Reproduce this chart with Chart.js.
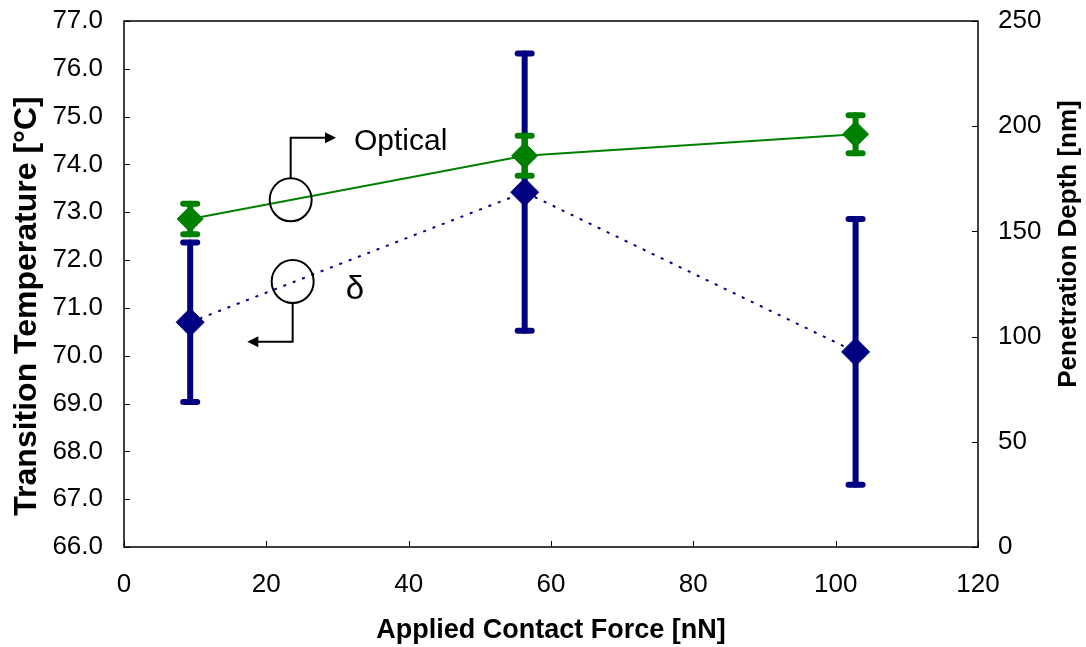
<!DOCTYPE html>
<html><head><meta charset="utf-8">
<script src="https://cdn.jsdelivr.net/npm/chart.js@4.4.0/dist/chart.umd.min.js"></script>
<style>html,body{margin:0;padding:0;background:#fff;}#wrap{width:1086px;height:647px;}</style>
</head><body><div id="wrap"><canvas id="c" width="1086" height="647"></canvas></div>
<script>
// ---- data ----
const forces = [9.3, 56.3, 102.8];                 // Applied Contact Force [nN]
const opticalValues = [155.9, 186.0, 196.2];       // "Optical" (right axis)
const opticalErrors = [7.3, 9.5, 9.0];
const deltaValues = [70.70, 73.42, 70.08];         // "δ" (left axis)
const deltaErrors = [1.67, 2.90, 2.78];
const leftRange = [66, 77], leftStep = 1;
const rightRange = [0, 250], rightStep = 50;
const xRange = [0, 120], xStep = 20;
const errorSets = [opticalErrors, deltaErrors];
const xTitle = 'Applied Contact Force [nN]';
const leftTitle = 'Transition Temperature [°C]';
const rightTitle = 'Penetration Depth [nm]';

const FONT = "'Liberation Sans', Arial, sans-serif";

const errorBars = {
  id: 'errorBars',
  beforeDatasetDraw(chart, args) {
    const ds = chart.data.datasets[args.index];
    const errs = errorSets[args.index];
    const xs = chart.scales.x, ys = chart.scales[ds.yAxisID];
    const ctx = chart.ctx;
    ctx.save();
    ctx.strokeStyle = ds.borderColor;
    ctx.lineCap = 'round';
    ds.data.forEach((p, i) => {
      const px = xs.getPixelForValue(p.x);
      const t = ys.getPixelForValue(p.y + errs[i]);
      const b = ys.getPixelForValue(p.y - errs[i]);
      ctx.lineWidth = 6;
      ctx.beginPath(); ctx.moveTo(px, t); ctx.lineTo(px, b); ctx.stroke();
      ctx.beginPath(); ctx.moveTo(px - 7, t); ctx.lineTo(px + 7, t); ctx.stroke();
      ctx.beginPath(); ctx.moveTo(px - 7, b); ctx.lineTo(px + 7, b); ctx.stroke();
    });
    ctx.restore();
  }
};

const frame = {
  id: 'frame',
  beforeDatasetsDraw(chart) {
    const {ctx, chartArea: a, scales} = chart;
    ctx.save();
    ctx.strokeStyle = '#000';
    ctx.lineWidth = 1.5;
    ctx.strokeRect(a.left, a.top, a.right - a.left, a.bottom - a.top);
    ctx.lineWidth = 1;
    const L = 6;
    scales.x.ticks.forEach(t => {
      const p = Math.round(scales.x.getPixelForValue(t.value)) + 0.5;
      ctx.beginPath(); ctx.moveTo(p, a.bottom); ctx.lineTo(p, a.bottom - L); ctx.stroke();
    });
    scales.y.ticks.forEach(t => {
      const p = Math.round(scales.y.getPixelForValue(t.value)) + 0.5;
      ctx.beginPath(); ctx.moveTo(a.left, p); ctx.lineTo(a.left + L, p); ctx.stroke();
    });
    scales.y2.ticks.forEach(t => {
      const p = Math.round(scales.y2.getPixelForValue(t.value)) + 0.5;
      ctx.beginPath(); ctx.moveTo(a.right, p); ctx.lineTo(a.right - L, p); ctx.stroke();
    });
    ctx.restore();
  }
};

// annotation anchors in data units (x, left-axis value)
const notes = {
  optical: {circle: [23.42, 73.26], top: 74.56, tip: 29.79, text: [32.32, 74.47], label: 'Optical'},
  delta: {circle: [23.70, 71.55], bottom: 70.29, tip: 17.33, text: [32.46, 71.37], label: 'δ'}
};

const annotations = {
  id: 'annotations',
  afterDatasetsDraw(chart) {
    const {ctx, scales} = chart;
    const X = v => scales.x.getPixelForValue(v), Y = v => scales.y.getPixelForValue(v);
    ctx.save();
    ctx.strokeStyle = '#000'; ctx.fillStyle = '#000'; ctx.lineWidth = 2;
    const rx = 21, ry = 21.5;
    let n = notes.optical;
    let cx = X(n.circle[0]), cy = Y(n.circle[1]);
    ctx.beginPath(); ctx.ellipse(cx, cy, rx, ry, 0, 0, Math.PI * 2); ctx.stroke();
    let ty = Y(n.top), tx = X(n.tip);
    ctx.beginPath(); ctx.moveTo(cx, cy - ry); ctx.lineTo(cx, ty); ctx.lineTo(tx - 8, ty); ctx.stroke();
    ctx.beginPath(); ctx.moveTo(tx, ty); ctx.lineTo(tx - 11, ty - 5.5); ctx.lineTo(tx - 11, ty + 5.5); ctx.closePath(); ctx.fill();
    ctx.font = '30px ' + FONT; ctx.textAlign = 'left'; ctx.textBaseline = 'middle';
    ctx.fillText(n.label, X(n.text[0]), Y(n.text[1]));
    n = notes.delta;
    cx = X(n.circle[0]); cy = Y(n.circle[1]);
    ctx.beginPath(); ctx.ellipse(cx, cy, rx, ry, 0, 0, Math.PI * 2); ctx.stroke();
    let by = Y(n.bottom); tx = X(n.tip);
    ctx.beginPath(); ctx.moveTo(cx, cy + ry); ctx.lineTo(cx, by); ctx.lineTo(tx + 8, by); ctx.stroke();
    ctx.beginPath(); ctx.moveTo(tx, by); ctx.lineTo(tx + 11, by - 5.5); ctx.lineTo(tx + 11, by + 5.5); ctx.closePath(); ctx.fill();
    ctx.font = '33px ' + FONT; ctx.textAlign = 'center';
    ctx.fillText(n.label, X(n.text[0]), Y(n.text[1]));
    ctx.restore();
  }
};

// vertical axis titles, both reading bottom-to-top
const yTitles = {
  id: 'yTitles',
  afterDraw(chart) {
    const ctx = chart.ctx;
    ctx.save();
    ctx.fillStyle = '#000'; ctx.textAlign = 'center'; ctx.textBaseline = 'middle';
    ctx.translate(27, 306); ctx.rotate(-Math.PI / 2);
    ctx.font = 'bold 32px ' + FONT;
    ctx.fillText(leftTitle, 0, 0);
    ctx.restore();
    ctx.save();
    ctx.fillStyle = '#000'; ctx.textAlign = 'center'; ctx.textBaseline = 'middle';
    ctx.translate(1069, 244); ctx.rotate(-Math.PI / 2);
    ctx.font = 'bold 26px ' + FONT;
    ctx.fillText(rightTitle, 0, 0);
    ctx.restore();
  }
};

const tickFont = {family: FONT, size: 26};
const titleFont = {family: FONT, size: 27, weight: 'bold'};
const noVertPad = s => { s.paddingTop = 0; s.paddingBottom = 0; };

new Chart(document.getElementById('c'), {
  type: 'line',
  data: {
    datasets: [
      {
        label: 'Optical', yAxisID: 'y2',
        data: forces.map((x, i) => ({x, y: opticalValues[i]})),
        borderColor: '#008000', backgroundColor: '#008000', borderWidth: 2,
        pointStyle: 'rectRot', pointRadius: 13, pointBorderWidth: 1,
        pointBackgroundColor: '#008000', pointBorderColor: '#008000', tension: 0, fill: false
      },
      {
        label: 'δ', yAxisID: 'y',
        data: forces.map((x, i) => ({x, y: deltaValues[i]})),
        borderColor: '#000080', backgroundColor: '#000080', borderWidth: 2, borderDash: [3, 7],
        pointStyle: 'rectRot', pointRadius: 14, pointBorderWidth: 1,
        pointBackgroundColor: '#000080', pointBorderColor: '#000080', tension: 0, fill: false
      }
    ]
  },
  options: {
    responsive: false, animation: false, devicePixelRatio: 1,
    layout: {padding: {top: 21, left: 0, right: 0, bottom: 0}},
    plugins: {legend: {display: false}, tooltip: {enabled: false}},
    scales: {
      x: {
        type: 'linear', position: 'bottom', min: xRange[0], max: xRange[1],
        grid: {display: false, drawTicks: false}, border: {display: false},
        ticks: {stepSize: xStep, font: tickFont, color: '#000', padding: 22, maxRotation: 0},
        title: {display: true, text: xTitle, font: titleFont, color: '#000', padding: {top: 0, bottom: 0}},
        afterFit: s => { s.height = 100; }
      },
      y: {
        type: 'linear', position: 'left', min: leftRange[0], max: leftRange[1],
        grid: {display: false, drawTicks: false}, border: {display: false},
        ticks: {stepSize: leftStep, font: tickFont, color: '#000', padding: 21, callback: v => Number(v).toFixed(1)},
        title: {display: false},
        afterFit: s => { s.width = 124; noVertPad(s); }
      },
      y2: {
        type: 'linear', position: 'right', min: rightRange[0], max: rightRange[1],
        grid: {display: false, drawTicks: false}, border: {display: false},
        ticks: {stepSize: rightStep, font: tickFont, color: '#000', padding: 20},
        title: {display: false},
        afterFit: s => { s.width = 108; noVertPad(s); }
      }
    }
  },
  plugins: [errorBars, frame, annotations, yTitles]
});
</script></body></html>
